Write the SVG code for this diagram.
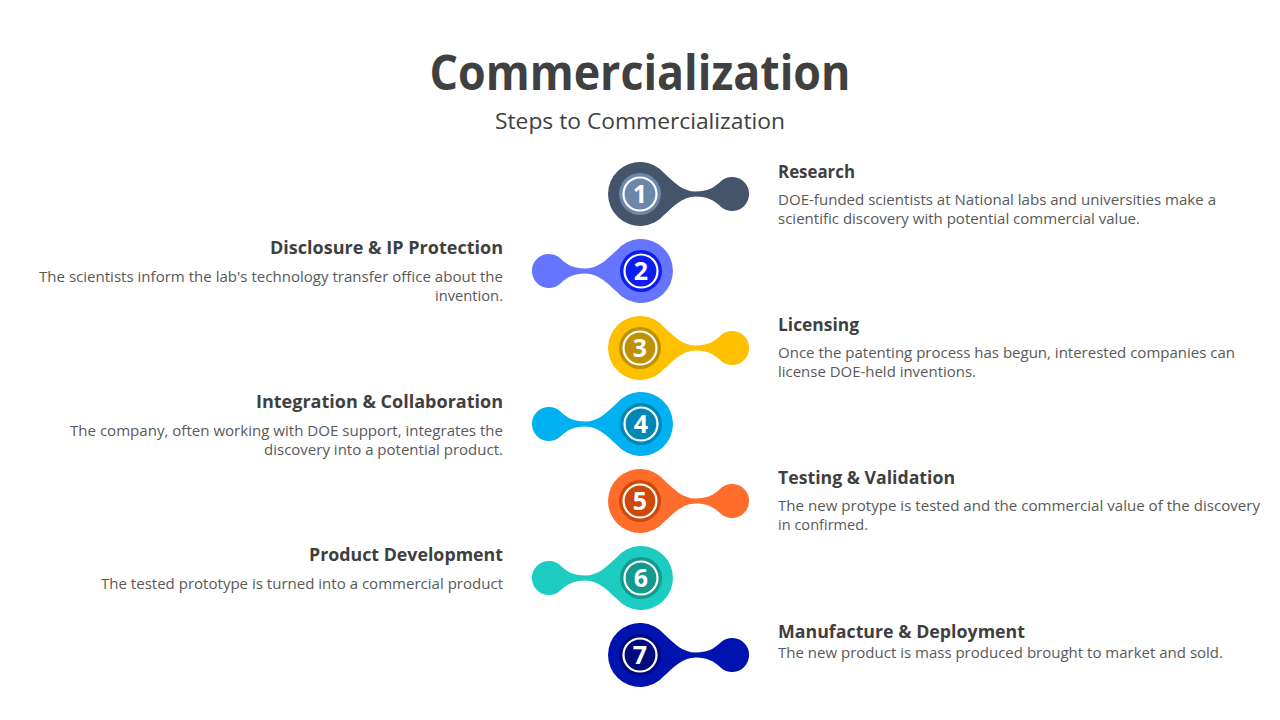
<svg xmlns="http://www.w3.org/2000/svg" width="1280" height="720" viewBox="0 0 1280 720">
<defs>
<style>
.title{font-family:"Open Sans","Noto Sans",sans-serif;font-weight:700;font-size:48px;fill:#404040;text-anchor:middle}
.sub{font-family:"Open Sans","Noto Sans",sans-serif;font-size:22px;fill:#404040;text-anchor:middle}
.h{font-family:"Open Sans","Noto Sans",sans-serif;font-weight:700;font-size:17.5px;fill:#3f3f3f}
.d{font-family:"Open Sans","Noto Sans",sans-serif;font-size:14.5px;fill:#595959}
.r{text-anchor:end}
.num{font-family:"Open Sans","Noto Sans",sans-serif;font-weight:700;font-size:25px;fill:#fff;text-anchor:middle}
.ring{fill:none;stroke:#fff;stroke-width:2.2}
</style>
<path id="blob" d="M24.5,-20.6 A32,32 0 1 0 24.5,20.6 C33,13 42,2.5 56,2.5 C67,2.5 74,6 81.1,13 A17,17 0 1 0 81.1,-13 C74,-6 67,-2.5 56,-2.5 C42,-2.5 33,-13 24.5,-20.6 Z"/>
</defs>
<rect width="1280" height="720" fill="#fff"/>
<text class="title" x="640" y="90" textLength="421" lengthAdjust="spacingAndGlyphs">Commercialization</text>
<text class="sub" x="640" y="129" textLength="290" lengthAdjust="spacingAndGlyphs">Steps to Commercialization</text>

<g id="connectors"></g>

<g id="step1">
<use href="#blob" transform="translate(640,194)" fill="#44546A"/>
<circle cx="640" cy="194" r="21" fill="#6C87AA"/>
<circle class="ring" cx="640" cy="194" r="16.5"/>
<text class="num" x="640" y="203">1</text>
<text class="h" x="778" y="178" textLength="77" lengthAdjust="spacingAndGlyphs">Research</text>
<text class="d" x="778" y="205" textLength="438" lengthAdjust="spacingAndGlyphs">DOE-funded scientists at National labs and universities make a</text>
<text class="d" x="778" y="224" textLength="362" lengthAdjust="spacingAndGlyphs">scientific discovery with potential commercial value.</text>
</g>

<g id="step2">
<use href="#blob" transform="translate(641,271) scale(-1,1)" fill="#6675FF"/>
<circle cx="641" cy="271" r="21" fill="#0C1CF2"/>
<circle class="ring" cx="641" cy="271" r="16.5"/>
<text class="num" x="641" y="280">2</text>
<text class="h r" x="503" y="254" textLength="233" lengthAdjust="spacingAndGlyphs">Disclosure &amp; IP Protection</text>
<text class="d r" x="503" y="282" textLength="464" lengthAdjust="spacingAndGlyphs">The scientists inform the lab's technology transfer office about the</text>
<text class="d r" x="503" y="301" textLength="68" lengthAdjust="spacingAndGlyphs">invention.</text>
</g>

<g id="step3">
<use href="#blob" transform="translate(640,348)" fill="#FFC000"/>
<circle cx="640" cy="348" r="21" fill="#BF9000"/>
<circle class="ring" cx="640" cy="348" r="16.5"/>
<text class="num" x="640" y="357">3</text>
<text class="h" x="778" y="331" textLength="81" lengthAdjust="spacingAndGlyphs">Licensing</text>
<text class="d" x="778" y="358" textLength="457" lengthAdjust="spacingAndGlyphs">Once the patenting process has begun, interested companies can</text>
<text class="d" x="778" y="377" textLength="198" lengthAdjust="spacingAndGlyphs">license DOE-held inventions.</text>
</g>

<g id="step4">
<use href="#blob" transform="translate(641,424) scale(-1,1)" fill="#00B0F0"/>
<circle cx="641" cy="424" r="21" fill="#0087B8"/>
<circle class="ring" cx="641" cy="424" r="16.5"/>
<text class="num" x="641" y="433">4</text>
<text class="h r" x="503" y="408" textLength="247" lengthAdjust="spacingAndGlyphs">Integration &amp; Collaboration</text>
<text class="d r" x="503" y="436" textLength="433" lengthAdjust="spacingAndGlyphs">The company, often working with DOE support, integrates the</text>
<text class="d r" x="503" y="455" textLength="239" lengthAdjust="spacingAndGlyphs">discovery into a potential product.</text>
</g>

<g id="step5">
<use href="#blob" transform="translate(640,501)" fill="#FF6D2D"/>
<circle cx="640" cy="501" r="21" fill="#D04808"/>
<circle class="ring" cx="640" cy="501" r="16.5"/>
<text class="num" x="640" y="510">5</text>
<text class="h" x="778" y="484" textLength="177" lengthAdjust="spacingAndGlyphs">Testing &amp; Validation</text>
<text class="d" x="778" y="511" textLength="482" lengthAdjust="spacingAndGlyphs">The new protype is tested and the commercial value of the discovery</text>
<text class="d" x="778" y="530" textLength="90" lengthAdjust="spacingAndGlyphs">in confirmed.</text>
</g>

<g id="step6">
<use href="#blob" transform="translate(641,578) scale(-1,1)" fill="#1DCCC0"/>
<circle cx="641" cy="578" r="21" fill="#14998F"/>
<circle class="ring" cx="641" cy="578" r="16.5"/>
<text class="num" x="641" y="587">6</text>
<text class="h r" x="503" y="561" textLength="194" lengthAdjust="spacingAndGlyphs">Product Development</text>
<text class="d r" x="503" y="589" textLength="402" lengthAdjust="spacingAndGlyphs">The tested prototype is turned into a commercial product</text>
</g>

<g id="step7">
<use href="#blob" transform="translate(640,655)" fill="#0013B0"/>
<circle cx="640" cy="655" r="21" fill="#000C7E"/>
<circle class="ring" cx="640" cy="655" r="16.5"/>
<text class="num" x="640" y="664">7</text>
<text class="h" x="778" y="638" textLength="247" lengthAdjust="spacingAndGlyphs">Manufacture &amp; Deployment</text>
<text class="d" x="778" y="658" textLength="445" lengthAdjust="spacingAndGlyphs">The new product is mass produced brought to market and sold.</text>
</g>
</svg>
